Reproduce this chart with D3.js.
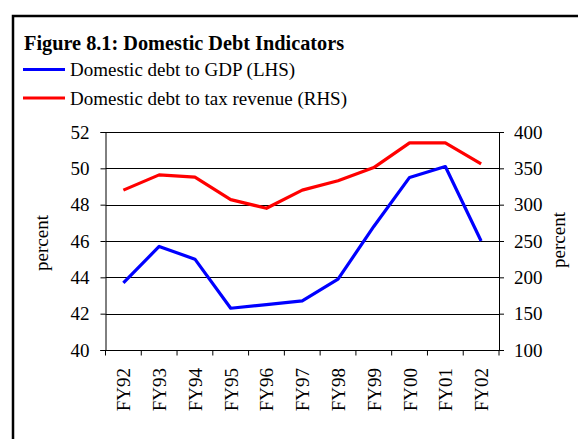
<!DOCTYPE html>
<html>
<head>
<meta charset="utf-8">
<script src="https://cdn.jsdelivr.net/npm/d3@7"></script>
<style>
  body { margin: 0; background: #fff; }
</style>
</head>
<body>
<svg id="chart" width="578" height="439"></svg>
<script>
// data
const years = ['FY92', 'FY93', 'FY94', 'FY95', 'FY96', 'FY97', 'FY98', 'FY99', 'FY00', 'FY01', 'FY02'];
const debtToGDP = [43.7, 45.7, 45.0, 42.3, 42.5, 42.7, 43.9, 46.8, 49.5, 50.1, 46.0];
const debtToTax = [320, 341, 338, 307, 295, 320, 333, 351, 385, 385, 356];
const leftTicks = [40, 42, 44, 46, 48, 50, 52];
const rightTicks = [100, 150, 200, 250, 300, 350, 400];
const seriesNames = ['Domestic debt to GDP (LHS)', 'Domestic debt to tax revenue (RHS)'];

const FONT = '"Liberation Serif", "Times New Roman", "DejaVu Serif", serif';

const svg = d3.select('#chart');
const plot = { left: 105.5, right: 499, top: 132, bottom: 350 };

// outer frame (runs off the right and bottom edges)
svg.append('path')
  .attr('d', 'M13,445 L13,16 L585,16')
  .attr('fill', 'none')
  .attr('stroke', '#000')
  .attr('stroke-width', 2.5);

// title + legend
svg.append('text')
  .attr('x', 24).attr('y', 50)
  .attr('font-family', FONT)
  .attr('font-size', 20.3).attr('font-weight', 'bold')
  .text('Figure 8.1: Domestic Debt Indicators');

const legendColors = ['#0000ff', '#ff0000'];
seriesNames.forEach((name, i) => {
  const y = 69.5 + i * 28.5;
  svg.append('line')
    .attr('x1', 23).attr('x2', 65).attr('y1', y).attr('y2', y)
    .attr('stroke', legendColors[i]).attr('stroke-width', 3);
  svg.append('text')
    .attr('x', 70).attr('y', y + 6.5)
    .attr('font-family', FONT)
    .attr('font-size', 19)
    .text(name);
});

const x = d3.scaleBand().domain(years).range([plot.left, plot.right]);
const yL = d3.scaleLinear().domain([40, 52]).range([plot.bottom, plot.top]);
const yR = d3.scaleLinear().domain([100, 400]).range([plot.bottom, plot.top]);

// gridlines
svg.append('g')
  .selectAll('line')
  .data(leftTicks)
  .join('line')
  .attr('x1', plot.left).attr('x2', plot.right)
  .attr('y1', d => Math.round(yL(d)) + 0.5).attr('y2', d => Math.round(yL(d)) + 0.5)
  .attr('stroke', '#000').attr('stroke-width', 1);

// left axis
const gL = svg.append('g')
  .attr('transform', `translate(${plot.left},0)`)
  .call(d3.axisLeft(yL).tickValues(leftTicks).tickSize(5).tickPadding(11));
// right axis
const gR = svg.append('g')
  .attr('transform', `translate(${plot.right},0)`)
  .call(d3.axisRight(yR).tickValues(rightTicks).tickSize(5).tickPadding(10));
[gL, gR].forEach(g => {
  g.attr('font-family', FONT).attr('font-size', 19);
  g.select('.domain').attr('stroke', '#000');
  g.selectAll('.tick line').attr('stroke', '#000');
  g.selectAll('text').attr('fill', '#000');
});

// bottom axis: ticks on category boundaries
const bottom = svg.append('g');
bottom.append('line')
  .attr('x1', plot.left - 5).attr('x2', plot.right + 5)
  .attr('y1', plot.bottom + 0.5).attr('y2', plot.bottom + 0.5)
  .attr('stroke', '#000');
bottom.selectAll('.bt')
  .data(years.concat(['end']))
  .join('line')
  .attr('class', 'bt')
  .attr('x1', (d, i) => plot.left + i * x.step())
  .attr('x2', (d, i) => plot.left + i * x.step())
  .attr('y1', plot.bottom).attr('y2', plot.bottom + 5.5)
  .attr('stroke', '#000');
bottom.selectAll('text')
  .data(years)
  .join('text')
  .attr('transform', d => `translate(${x(d) + x.bandwidth() / 2 + 7},368) rotate(-90)`)
  .attr('text-anchor', 'end')
  .attr('font-family', FONT)
  .attr('font-size', 19)
  .text(d => d);

// axis titles
svg.append('text')
  .attr('transform', 'translate(48,243) rotate(-90)')
  .attr('text-anchor', 'middle')
  .attr('font-family', FONT)
  .attr('font-size', 19)
  .text('percent');
svg.append('text')
  .attr('transform', 'translate(565,240) rotate(-90)')
  .attr('text-anchor', 'middle')
  .attr('font-family', FONT)
  .attr('font-size', 19)
  .text('percent');

// series
const cx = d => x(d) + x.bandwidth() / 2;
svg.append('path')
  .datum(years.map((d, i) => [cx(d), yR(debtToTax[i])]))
  .attr('d', d3.line())
  .attr('fill', 'none').attr('stroke', '#ff0000').attr('stroke-width', 3.2)
  .attr('stroke-linejoin', 'round');
svg.append('path')
  .datum(years.map((d, i) => [cx(d), yL(debtToGDP[i])]))
  .attr('d', d3.line())
  .attr('fill', 'none').attr('stroke', '#0000ff').attr('stroke-width', 3.2)
  .attr('stroke-linejoin', 'round');
</script>
</body>
</html>
